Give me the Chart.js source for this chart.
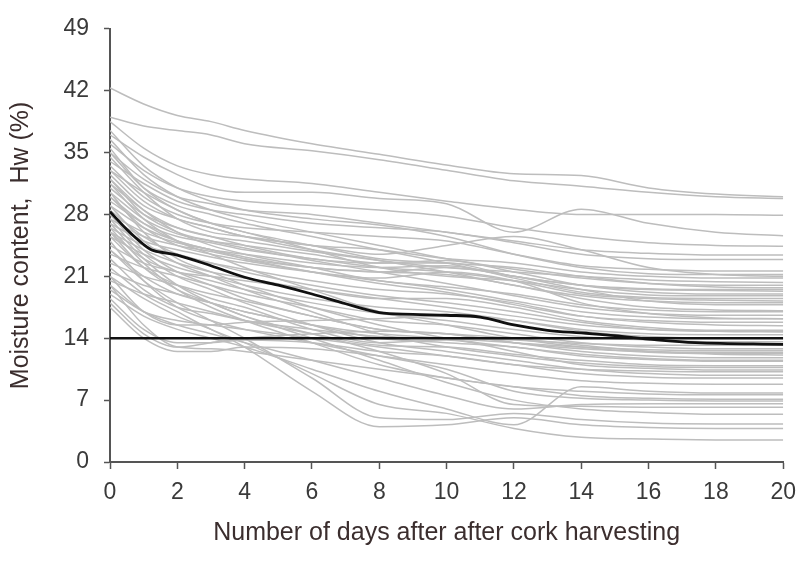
<!DOCTYPE html>
<html>
<head>
<meta charset="utf-8">
<script src="https://cdn.jsdelivr.net/npm/chart.js@4/dist/chart.umd.min.js"></script>
<style>
  html, body { margin: 0; padding: 0; background: #fff; }
  #wrap { width: 806px; height: 569px; }
</style>
</head>
<body>
<div id="wrap"><canvas id="moistureChart" width="806" height="569"></canvas></div>
<script>
// sampling days for the individual cork planks
const days = [0, 1, 2, 3, 4, 6, 8, 10, 12, 14, 16, 18, 20];

// individual planks, values (Hw %)
const upperSamples = [
    [42.3, 40.5, 39.2, 38.5, 37.5, 36.0, 34.8, 33.6, 32.6, 32.4, 31.0, 30.3, 30.0],
    [39.0, 38.0, 37.5, 37.0, 36.0, 35.2, 34.2, 33.0, 31.8, 31.2, 30.5, 30.0, 29.8],
    [38.5, 35.5, 33.5, 32.5, 32.0, 31.5, 30.5, 29.5, 28.6, 28.0, 28.0, 28.0, 27.9],
    [37.0, 34.5, 32.5, 31.0, 30.5, 30.5, 29.8, 29.2, 26.0, 28.6, 27.0, 26.0, 25.6],
    [36.0, 33.0, 31.0, 30.0, 29.5, 29.0, 28.5, 27.8, 26.5, 25.5, 24.8, 24.5, 24.4],
    [35.0, 32.0, 30.0, 29.2, 28.5, 28.0, 27.0, 26.0, 25.0, 24.0, 23.6, 23.4, 23.4],
    [34.0, 31.5, 29.5, 28.5, 28.0, 27.0, 26.5, 26.0, 24.8, 23.5, 23.0, 22.9, 22.9],
    [33.5, 30.0, 28.0, 27.0, 26.5, 26.0, 25.5, 25.0, 23.5, 22.2, 21.8, 21.6, 21.6],
    [32.5, 29.0, 27.5, 26.5, 25.5, 24.5, 23.5, 24.5, 25.5, 24.0, 22.0, 21.2, 21.0],
    [31.5, 28.5, 26.5, 25.5, 25.0, 23.8, 22.8, 22.0, 21.5, 21.0, 20.6, 20.4, 20.3],
    [30.5, 27.5, 25.8, 25.0, 24.5, 23.5, 22.5, 22.5, 21.0, 20.0, 19.5, 19.4, 19.3],
    [29.5, 27.0, 25.5, 24.8, 24.0, 23.0, 22.0, 21.5, 20.5, 19.0, 18.5, 18.3, 18.2],
    [37.5, 33.5, 31.0, 29.5, 28.5, 27.5, 26.8, 25.5, 23.5, 22.0, 21.3, 21.2, 21.2],
    [36.5, 32.5, 30.0, 28.5, 27.5, 26.0, 24.5, 23.0, 21.8, 20.8, 20.2, 20.0, 20.0],
    [34.5, 30.5, 27.5, 26.0, 25.5, 24.5, 24.0, 23.0, 22.5, 21.5, 21.0, 20.8, 20.8]
];

const middleSamples = [
    [28.0, 26.0, 24.8, 24.0, 23.2, 22.0, 21.5, 21.2, 20.0, 18.5, 17.5, 17.2, 17.1],
    [27.0, 25.0, 24.0, 23.2, 22.5, 21.5, 20.8, 21.5, 20.5, 18.0, 16.8, 16.3, 16.2],
    [26.5, 24.5, 23.5, 22.5, 21.8, 20.5, 19.5, 19.0, 18.0, 16.5, 15.8, 15.5, 15.4],
    [26.0, 24.0, 22.5, 21.5, 20.8, 19.5, 18.5, 18.5, 17.5, 16.0, 15.2, 14.8, 14.7],
    [25.5, 23.5, 22.0, 21.0, 20.0, 18.5, 17.5, 17.0, 16.0, 14.8, 14.2, 14.0, 14.0],
    [33.0, 30.5, 28.5, 27.0, 26.0, 24.5, 23.0, 22.5, 22.0, 21.0, 20.2, 19.8, 19.7],
    [31.0, 28.0, 26.5, 25.5, 24.5, 23.0, 22.5, 22.8, 21.5, 20.0, 19.2, 19.0, 19.0],
    [29.0, 26.5, 25.0, 24.0, 23.5, 22.5, 22.0, 22.2, 20.8, 19.2, 18.6, 18.5, 18.5],
    [27.5, 25.5, 24.5, 23.8, 23.0, 22.0, 21.5, 22.0, 21.0, 19.5, 18.2, 17.8, 17.8],
    [35.5, 31.0, 28.5, 27.0, 26.0, 24.0, 22.0, 21.0, 20.5, 19.5, 18.9, 18.8, 18.8],
    [32.0, 28.5, 26.0, 24.5, 23.5, 22.0, 20.5, 19.8, 19.0, 17.8, 17.2, 17.0, 17.0],
    [30.0, 27.0, 25.0, 24.0, 23.0, 21.5, 20.2, 19.2, 17.8, 16.5, 16.0, 15.8, 15.8],
    [28.5, 25.5, 23.5, 22.5, 21.5, 20.0, 18.8, 18.0, 17.0, 15.8, 15.0, 14.8, 14.8],
    [24.5, 22.5, 21.5, 20.5, 19.5, 18.0, 16.8, 16.0, 15.0, 14.2, 13.8, 13.6, 13.6],
    [23.5, 22.0, 21.0, 20.0, 19.0, 17.5, 16.0, 15.5, 14.5, 13.5, 13.0, 12.8, 12.8],
    [22.5, 21.0, 20.0, 19.0, 18.2, 16.5, 15.0, 14.5, 14.0, 13.2, 12.5, 12.2, 12.1],
    [35.0, 31.0, 29.0, 28.0, 27.0, 25.5, 24.0, 22.5, 21.0, 20.0, 19.6, 19.5, 19.5],
    [33.0, 29.5, 27.5, 26.5, 25.5, 24.0, 22.8, 21.5, 20.0, 18.8, 18.2, 18.0, 18.0],
    [32.0, 28.0, 26.0, 25.0, 24.2, 22.8, 21.5, 20.2, 18.8, 17.5, 16.8, 16.6, 16.6],
    [30.0, 26.5, 24.5, 23.5, 22.8, 21.5, 20.5, 19.5, 18.2, 17.0, 16.4, 16.2, 16.2],
    [26.0, 23.0, 21.5, 21.0, 20.5, 19.5, 18.5, 17.5, 16.5, 15.5, 15.0, 14.9, 14.9],
    [21.0, 17.0, 15.5, 15.5, 15.8, 16.0, 16.2, 16.5, 16.0, 15.0, 14.5, 14.4, 14.4]
];

const lowerSamples = [
    [21.5, 20.0, 19.0, 18.0, 17.0, 15.5, 14.0, 13.5, 13.0, 12.0, 11.6, 11.4, 11.4],
    [20.5, 19.0, 18.0, 17.0, 16.0, 14.5, 13.2, 13.0, 12.2, 11.5, 11.0, 10.9, 10.9],
    [19.5, 17.0, 16.0, 15.5, 15.0, 14.0, 13.0, 12.0, 11.0, 10.5, 10.3, 10.2, 10.2],
    [18.5, 15.0, 13.5, 13.5, 13.8, 13.5, 12.5, 12.0, 11.0, 10.0, 9.6, 9.5, 9.5],
    [17.5, 14.0, 12.5, 12.5, 13.0, 12.8, 12.0, 11.0, 10.0, 9.2, 8.9, 8.8, 8.8],
    [20.0, 15.5, 13.0, 12.8, 12.5, 11.5, 10.5, 9.5, 8.5, 8.0, 7.7, 7.6, 7.6],
    [25.0, 20.5, 17.5, 16.0, 15.0, 13.5, 12.0, 10.5, 8.0, 7.2, 7.0, 6.9, 6.9],
    [26.0, 22.0, 19.5, 18.0, 16.5, 14.5, 12.5, 10.0, 6.5, 6.3, 6.2, 6.2, 6.2],
    [27.0, 23.0, 20.0, 18.0, 16.5, 14.0, 11.5, 9.0, 7.0, 6.0, 5.6, 5.4, 5.4],
    [24.0, 20.5, 18.0, 16.0, 14.0, 9.5, 5.0, 4.8, 5.5, 4.8, 4.4, 4.3, 4.3],
    [21.0, 18.5, 16.5, 15.0, 13.0, 8.0, 4.0, 4.2, 5.0, 4.2, 3.9, 3.8, 3.8],
    [22.0, 19.0, 17.0, 15.0, 13.5, 10.0, 6.5, 5.5, 3.8, 2.8, 2.6, 2.5, 2.5],
    [19.0, 16.5, 15.0, 14.0, 13.0, 10.5, 8.0, 6.0, 4.2, 8.5, 8.0, 7.8, 7.8],
    [20.0, 17.0, 15.5, 14.5, 13.5, 11.5, 9.5, 7.5, 6.0, 6.5, 6.6, 6.6, 6.6],
    [26.5, 22.5, 19.5, 17.5, 16.0, 13.5, 11.0, 9.5, 8.5, 7.5, 7.2, 7.1, 7.1],
    [28.0, 24.0, 21.5, 20.0, 18.5, 16.5, 15.0, 14.5, 13.5, 12.5, 12.0, 11.8, 11.8],
    [30.5, 26.0, 23.0, 21.5, 20.0, 17.5, 15.5, 14.0, 13.0, 12.2, 11.7, 11.5, 11.5],
    [29.0, 25.0, 22.5, 21.0, 19.5, 17.0, 14.5, 13.0, 12.0, 11.2, 10.8, 10.7, 10.7],
    [27.5, 23.5, 21.0, 19.5, 18.0, 15.5, 13.5, 12.5, 11.5, 10.5, 10.0, 9.8, 9.8],
    [25.5, 22.0, 20.0, 18.5, 17.5, 15.0, 13.5, 13.8, 12.5, 11.0, 10.6, 10.4, 10.4],
    [24.0, 21.0, 19.0, 18.0, 17.0, 15.5, 14.5, 14.0, 13.5, 13.0, 12.7, 12.6, 12.6],
    [23.0, 19.5, 17.5, 16.8, 16.0, 15.0, 14.2, 14.0, 13.8, 13.4, 13.2, 13.2, 13.2],
    [31.5, 27.5, 25.0, 23.5, 22.0, 19.5, 17.0, 15.5, 14.0, 13.0, 12.4, 12.3, 12.3],
    [18.0, 14.5, 13.0, 13.5, 14.0, 14.5, 14.8, 14.5, 13.5, 12.8, 12.5, 12.4, 12.4]
];

// average curve (black)
const meanDays = [0, 0.5, 1, 1.3, 2, 3, 4, 5, 6, 7, 8, 9, 10, 11, 12, 13, 14, 15, 16, 17.4, 20];
const meanValues = [28.3, 26.3, 24.6, 23.9, 23.4, 22.2, 20.9, 20.0, 19.0, 17.9, 16.9, 16.7, 16.6, 16.4, 15.5, 14.9, 14.6, 14.3, 13.9, 13.5, 13.3];

// reference moisture level
const limitDays = [0, 20];
const limitValues = [14, 14];

const xTickValues = [0, 2, 4, 6, 8, 10, 12, 14, 16, 18, 20];
const yTickValues = [0, 7, 14, 21, 28, 35, 42, 49];

const toPoints = (xs, ys) => xs.map((x, i) => ({ x: x, y: ys[i] }));

const samples = upperSamples.concat(middleSamples, lowerSamples);

const grayDatasets = samples.map(vals => ({
    data: toPoints(days, vals),
    borderColor: "#bdbdbd",
    borderWidth: 1.5,
    pointRadius: 0,
    cubicInterpolationMode: "monotone",
    order: 2
}));

const axisColor = "#555555";
const textColor = "#3a3a3a";
const fontFamily = "Liberation Sans, Arial, sans-serif";

new Chart(document.getElementById("moistureChart"), {
    type: "line",
    data: {
        datasets: [
            {
                data: toPoints(limitDays, limitValues),
                borderColor: "#111",
                borderWidth: 2.5,
                pointRadius: 0,
                order: 0
            },
            {
                data: toPoints(meanDays, meanValues),
                borderColor: "#111",
                borderWidth: 2.8,
                pointRadius: 0,
                tension: 0.35,
                order: 1
            }
        ].concat(grayDatasets)
    },
    options: {
        responsive: false,
        animation: false,
        devicePixelRatio: 1,
        layout: { padding: { left: 0, right: 22, top: 22, bottom: 0 } },
        plugins: {
            legend: { display: false },
            tooltip: { enabled: false }
        },
        scales: {
            x: {
                type: "linear",
                min: 0,
                max: 20,
                afterBuildTicks: s => { s.ticks = xTickValues.map(v => ({ value: v })); },
                afterFit: s => { s.height = 107; },
                ticks: {
                    color: textColor,
                    font: { family: fontFamily, size: 23 },
                    padding: 10,
                    maxRotation: 0
                },
                grid: {
                    drawOnChartArea: false,
                    drawTicks: true,
                    tickLength: 7,
                    tickWidth: 1.5,
                    tickColor: axisColor
                },
                border: { display: true, color: axisColor, width: 2 },
                title: {
                    display: true,
                    text: "Number of days after after cork harvesting",
                    color: "#3b2e2e",
                    font: { family: fontFamily, size: 25 },
                    padding: { top: 0, bottom: 21 }
                }
            },
            y: {
                min: 0,
                max: 49,
                afterBuildTicks: s => { s.ticks = yTickValues.map(v => ({ value: v })); },
                afterFit: s => { s.width = 110; },
                ticks: {
                    color: textColor,
                    font: { family: fontFamily, size: 23 },
                    padding: 15
                },
                grid: {
                    drawOnChartArea: false,
                    drawTicks: true,
                    tickLength: 6,
                    tickWidth: 1.5,
                    tickColor: axisColor
                },
                border: { display: true, color: axisColor, width: 2 },
                title: {
                    display: true,
                    text: "Moisture content,  Hw (%)",
                    color: "#3b2e2e",
                    font: { family: fontFamily, size: 25 },
                    padding: { top: 6, bottom: 0 }
                }
            }
        }
    }
});
</script>
</body>
</html>
